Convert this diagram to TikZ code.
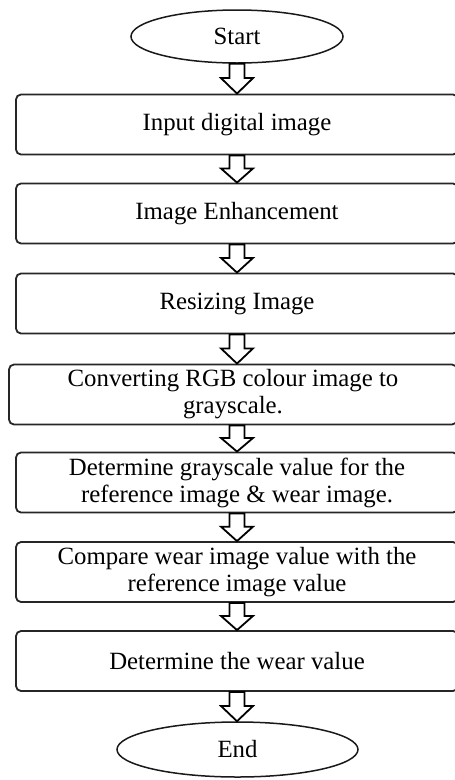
\documentclass[tikz,border=0pt]{standalone}
\usepackage{fontspec}
\setmainfont{Liberation Serif}
\usetikzlibrary{shapes.geometric,calc}
\newcommand\flowarr[2]{%
  \draw[flowarrow] let \p1=(#1.south), \p2=(#2.north) in
    ({237pt-7.5pt},\y1) -- ({237pt-7.5pt},{0.52*\y1+0.48*\y2}) -- ({237pt-16pt},{0.52*\y1+0.48*\y2})
    -- (237pt,\y2) -- ({237pt+16pt},{0.52*\y1+0.48*\y2}) -- ({237pt+7.5pt},{0.52*\y1+0.48*\y2})
    -- ({237pt+7.5pt},\y1) -- cycle;}
\begin{document}
\begin{tikzpicture}[x=1pt,y=-1pt,
  txt/.style={font=\fontsize{24.8}{27}\selectfont},
  procbox/.style={txt, draw=black!85, line width=1.8pt, rounded corners=5pt, fill=white,
    minimum height=60pt, minimum width=442pt, inner sep=0pt, align=center},
  term/.style={txt, ellipse, draw=black!90, line width=1.5pt, inner sep=0pt, fill=white},
  flowarrow/.style={draw=black, line width=1.8pt, fill=white, line join=miter}]
\useasboundingbox (0,0) rectangle (455,780);
\clip (0,0) rectangle (455,780);
\node[term, minimum width=212pt, minimum height=53pt] (start) at (237,36.5) {Start};
\node[procbox] (b1) at (237,124.5) {Input digital image};
\node[procbox] (b2) at (237,213.5) {Image Enhancement};
\node[procbox] (b3) at (237,303.5) {Resizing Image};
\node[procbox, minimum width=448pt] (b4) at (233,394.5) {Converting RGB colour image to\\grayscale.};
\node[procbox] (b5) at (237,482.5) {Determine grayscale value for the\\reference image \& wear image.};
\node[procbox] (b6) at (237,572) {Compare wear image value with the\\reference image value};
\node[procbox] (b7) at (237,661) {Determine the wear value};
\node[term, minimum width=241pt, minimum height=55pt] (end) at (237.5,749.5) {End};
\flowarr{start}{b1}
\flowarr{b1}{b2}
\flowarr{b2}{b3}
\flowarr{b3}{b4}
\flowarr{b4}{b5}
\flowarr{b5}{b6}
\flowarr{b6}{b7}
\flowarr{b7}{end}
\end{tikzpicture}
\end{document}
